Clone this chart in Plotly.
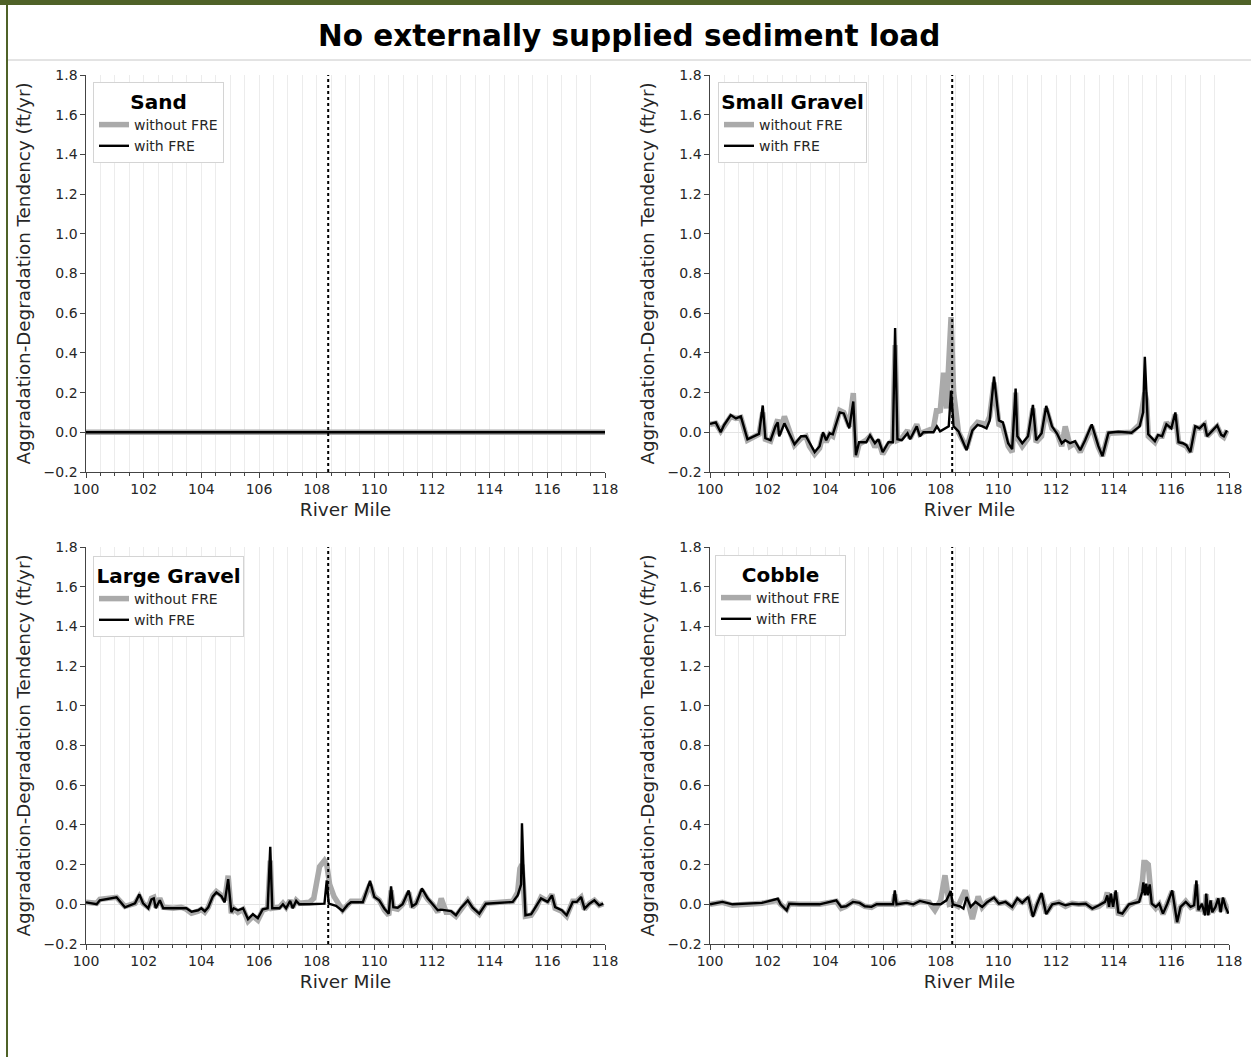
import plotly.graph_objects as go

# ---------------------------------------------------------------------------
# Aggradation-degradation tendency (ft/yr) along the river, by grain class
# ---------------------------------------------------------------------------
fre_mile = 108.4  # location of the FRE structure (dotted line)

# Sand: flat for both scenarios
sand_mile_without = [100.0, 104.0, 108.0, 112.0, 118.0]
sand_without = [0.0, 0.0, 0.0, 0.0, 0.0]
sand_mile_with = [100.0, 104.0, 108.0, 112.0, 118.0]
sand_with = [0.0, 0.0, 0.0, 0.0, 0.0]

# Small gravel
sgravel_mile_with = [
    100.0, 100.2, 100.37, 100.49, 100.72, 100.9, 101.07, 101.3, 101.7, 101.83,
    101.92, 102.1, 102.27, 102.35, 102.4, 102.58, 102.93, 103.16, 103.33, 103.45,
    103.63, 103.8, 103.92, 104.03, 104.15, 104.26, 104.5, 104.64, 104.83, 104.97,
    105.06, 105.17, 105.42, 105.55, 105.72, 105.84, 105.99, 106.19, 106.34, 106.42,
    106.5, 106.65, 106.85, 106.94, 107.17, 107.28, 107.4, 107.75, 107.87, 107.98,
    108.28, 108.36, 108.45, 108.62, 108.9, 109.1, 109.28, 109.45, 109.59, 109.7,
    109.85, 110.02, 110.16, 110.34, 110.48, 110.6, 110.66, 110.83, 111.03, 111.2,
    111.31, 111.5, 111.66, 111.86, 112.03, 112.2, 112.32, 112.49, 112.66, 112.84,
    113.01, 113.24, 113.47, 113.61, 113.82, 114.16, 114.62, 114.9, 115.02, 115.08,
    115.14, 115.2, 115.43, 115.54, 115.68, 115.83, 116.0, 116.14, 116.25, 116.4,
    116.52, 116.66, 116.83, 116.98, 117.15, 117.24, 117.4, 117.59, 117.73, 117.82,
    117.93,
]
sgravel_with = [
    0.042, 0.05, 0.0, 0.037, 0.087, 0.07, 0.08, -0.035, -0.008, 0.135,
    -0.03, -0.04, 0.03, 0.05, -0.02, 0.045, -0.06, -0.02, -0.02, -0.055,
    -0.1, -0.07, 0.0, -0.04, -0.005, -0.01, 0.1, 0.095, 0.02, 0.155,
    -0.115, -0.05, -0.05, -0.015, -0.055, -0.035, -0.1, -0.05, -0.05, 0.525,
    -0.035, -0.04, -0.005, -0.035, 0.03, -0.02, 0.0, 0.0, 0.03, 0.005,
    0.03, 0.21, 0.03, 0.005, -0.09, 0.01, 0.037, 0.03, 0.02, 0.06,
    0.28, 0.06, 0.05, -0.055, -0.085, 0.22, -0.02, -0.055, -0.02, 0.138,
    -0.04, -0.005, 0.133, 0.03, -0.005, -0.055, -0.04, -0.055, -0.045, -0.09,
    -0.04, 0.04, -0.07, -0.12, -0.002, 0.003, -0.002, 0.03, 0.1, 0.38,
    0.19, -0.01, -0.045, -0.013, -0.02, 0.04, 0.02, 0.1, -0.05, -0.055,
    -0.065, -0.1, 0.03, 0.02, 0.045, -0.02, 0.005, 0.035, -0.013, -0.02,
    0.01,
]
sgravel_mile_without = [
    100.0, 100.2, 100.37, 100.49, 100.72, 100.9, 101.07, 101.3, 101.7, 101.83,
    101.92, 102.1, 102.27, 102.35, 102.4, 102.58, 102.93, 103.16, 103.33, 103.45,
    103.63, 103.8, 103.92, 104.03, 104.15, 104.26, 104.5, 104.64, 104.83, 104.97,
    105.06, 105.17, 105.42, 105.55, 105.72, 105.84, 105.99, 106.19, 106.34, 106.42,
    106.5, 106.65, 106.85, 106.94, 107.17, 107.28, 107.4, 107.75, 107.87, 107.98,
    108.1, 108.2, 108.28, 108.36, 108.45, 108.55, 108.62, 108.9, 109.1, 109.28,
    109.45, 109.59, 109.7, 109.85, 110.02, 110.16, 110.34, 110.48, 110.6, 110.66,
    110.83, 111.03, 111.2, 111.31, 111.5, 111.66, 111.86, 112.03, 112.2, 112.32,
    112.49, 112.66, 112.84, 113.01, 113.24, 113.47, 113.61, 113.82, 114.16, 114.62,
    114.9, 115.02, 115.08, 115.14, 115.2, 115.43, 115.54, 115.68, 115.83, 116.0,
    116.14, 116.25, 116.4, 116.52, 116.66, 116.83, 116.98, 117.15, 117.24, 117.4,
    117.59, 117.73, 117.82, 117.93,
]
sgravel_without = [
    0.04, 0.045, 0.005, 0.035, 0.08, 0.07, 0.075, -0.04, -0.01, 0.1,
    -0.035, -0.045, 0.045, 0.065, -0.01, 0.08, -0.065, -0.03, -0.02, -0.07,
    -0.11, -0.08, -0.01, -0.05, -0.01, -0.02, 0.11, 0.1, 0.03, 0.197,
    -0.125, -0.06, -0.04, -0.02, -0.075, -0.04, -0.11, -0.06, -0.04, 0.44,
    -0.04, -0.03, 0.01, -0.03, 0.04, -0.01, 0.0, 0.02, 0.12, 0.1,
    0.3, 0.12, 0.35, 0.58, 0.2, 0.05, 0.0, -0.08, 0.02, 0.05,
    0.045, 0.04, 0.08, 0.25, 0.04, 0.03, -0.07, -0.1, 0.2, -0.03,
    -0.07, -0.03, 0.12, -0.05, -0.02, 0.12, 0.02, 0.0, -0.07, 0.03,
    -0.07, -0.055, -0.1, -0.05, 0.03, -0.075, -0.12, -0.005, 0.0, 0.0,
    0.04, 0.13, 0.2, 0.16, -0.02, -0.05, -0.02, -0.02, 0.05, 0.02,
    0.09, -0.05, -0.06, -0.07, -0.1, 0.025, 0.02, 0.04, -0.02, 0.0,
    0.03, -0.015, -0.025, 0.01,
]

# Large gravel
lgravel_mile_with = [
    100.0, 100.37, 100.48, 100.9, 101.06, 101.35, 101.7, 101.85, 101.98, 102.16,
    102.27, 102.35, 102.42, 102.56, 102.68, 103.02, 103.3, 103.48, 103.66, 103.89,
    104.0, 104.12, 104.24, 104.4, 104.52, 104.7, 104.81, 104.93, 105.04, 105.12,
    105.27, 105.45, 105.62, 105.79, 105.96, 106.13, 106.3, 106.39, 106.46, 106.71,
    106.83, 106.94, 107.08, 107.17, 107.29, 107.4, 107.75, 108.1, 108.27, 108.35,
    108.42, 108.67, 108.9, 109.07, 109.19, 109.6, 109.85, 110.0, 110.17, 110.35,
    110.5, 110.58, 110.66, 110.81, 110.98, 111.19, 111.31, 111.45, 111.65, 111.85,
    112.02, 112.2, 112.32, 112.49, 112.66, 112.83, 113.01, 113.24, 113.41, 113.64,
    113.87, 114.8, 114.97, 115.09, 115.12, 115.17, 115.24, 115.44, 115.6, 115.78,
    116.01, 116.16, 116.27, 116.5, 116.67, 116.88, 117.02, 117.17, 117.29, 117.46,
    117.63, 117.8, 117.94,
]
lgravel_with = [
    0.01, 0.0, 0.02, 0.03, 0.035, -0.015, 0.005, 0.05, 0.005, -0.02,
    0.025, 0.03, -0.02, 0.02, -0.02, -0.02, -0.02, -0.02, -0.037, -0.03,
    -0.02, -0.035, -0.015, 0.04, 0.06, 0.04, 0.01, 0.127, -0.04, -0.02,
    -0.03, -0.02, -0.075, -0.05, -0.07, -0.025, -0.02, 0.29, -0.02, -0.02,
    0.0, -0.02, 0.017, -0.02, 0.017, 0.0, 0.0, 0.003, 0.003, 0.12,
    0.003, -0.008, -0.034, -0.003, 0.01, 0.01, 0.118, 0.037, 0.02, -0.022,
    -0.047, 0.09, -0.014, -0.017, 0.0, 0.07, -0.01, 0.003, 0.08, 0.03,
    0.003, -0.03, -0.027, -0.03, -0.034, -0.055, -0.017, 0.02, -0.017, -0.047,
    0.003, 0.012, 0.045, 0.1, 0.408, 0.19, -0.055, -0.05, -0.014, 0.03,
    0.012, 0.045, -0.014, -0.03, -0.055, 0.012, 0.012, 0.037, -0.022, 0.003,
    0.02, -0.005, 0.003,
]
lgravel_mile_without = [
    100.0, 100.37, 100.48, 100.9, 101.06, 101.35, 101.7, 101.85, 101.98, 102.16,
    102.27, 102.35, 102.42, 102.56, 102.68, 103.02, 103.3, 103.48, 103.66, 103.89,
    104.0, 104.12, 104.24, 104.4, 104.52, 104.7, 104.81, 104.93, 105.04, 105.12,
    105.27, 105.45, 105.62, 105.79, 105.96, 106.13, 106.3, 106.39, 106.46, 106.71,
    106.83, 106.94, 107.08, 107.17, 107.29, 107.4, 107.75, 107.9, 108.1, 108.27,
    108.35, 108.45, 108.6, 108.9, 109.07, 109.19, 109.6, 109.85, 110.0, 110.17,
    110.35, 110.5, 110.58, 110.66, 110.81, 110.98, 111.19, 111.31, 111.45, 111.65,
    111.85, 112.02, 112.2, 112.32, 112.49, 112.66, 112.83, 113.01, 113.24, 113.41,
    113.64, 113.87, 114.8, 114.97, 115.05, 115.12, 115.17, 115.24, 115.44, 115.6,
    115.78, 116.01, 116.16, 116.27, 116.5, 116.67, 116.88, 117.02, 117.17, 117.29,
    117.46, 117.63, 117.8, 117.94,
]
lgravel_without = [
    0.01, 0.005, 0.025, 0.035, 0.035, -0.01, 0.005, 0.04, 0.005, -0.015,
    0.03, 0.035, -0.015, 0.03, -0.015, -0.02, -0.015, -0.025, -0.045, -0.035,
    -0.025, -0.04, -0.015, 0.045, 0.065, 0.045, 0.02, 0.144, -0.045, -0.02,
    -0.04, -0.025, -0.085, -0.06, -0.08, -0.03, -0.02, 0.22, -0.02, -0.015,
    0.005, -0.015, 0.02, -0.015, 0.02, 0.005, 0.01, 0.03, 0.19, 0.22,
    0.2, 0.1, 0.04, -0.03, 0.0, 0.015, 0.015, 0.1, 0.04, 0.02,
    -0.03, -0.055, 0.07, -0.02, -0.025, 0.0, 0.06, -0.015, 0.005, 0.07,
    0.025, 0.0, -0.04, 0.03, -0.04, -0.04, -0.06, -0.02, 0.02, -0.02,
    -0.05, 0.005, 0.015, 0.06, 0.18, 0.2, 0.1, -0.06, -0.055, -0.02,
    0.035, 0.015, 0.05, -0.02, -0.035, -0.06, 0.015, 0.015, 0.035, -0.025,
    0.005, 0.02, -0.005, 0.003,
]

# Cobble
cobble_mile_with = [
    100.0, 100.43, 100.78, 101.8, 102.35, 102.45, 102.66, 102.75, 103.1, 103.8,
    104.38, 104.55, 104.72, 104.96, 105.19, 105.37, 105.6, 105.78, 106.35, 106.41,
    106.47, 106.82, 107.05, 107.28, 107.75, 108.0, 108.2, 108.35, 108.42, 108.67,
    108.79, 108.9, 109.04, 109.21, 109.44, 109.62, 109.85, 110.02, 110.25, 110.48,
    110.66, 110.83, 111.04, 111.2, 111.35, 111.5, 111.66, 111.87, 112.1, 112.33,
    112.56, 112.79, 113.03, 113.26, 113.49, 113.7, 113.78, 113.84, 113.9, 113.98,
    114.07, 114.16, 114.3, 114.53, 114.88, 114.99, 115.03, 115.08, 115.13, 115.18,
    115.25, 115.32, 115.46, 115.58, 115.71, 115.86, 116.03, 116.2, 116.32, 116.5,
    116.67, 116.79, 116.87, 116.94, 117.06, 117.17, 117.21, 117.28, 117.36, 117.42,
    117.53, 117.63, 117.71, 117.79, 117.88, 117.98,
]
cobble_with = [
    0.0, 0.012, 0.0, 0.007, 0.028, 0.0, -0.03, 0.003, 0.0, 0.0,
    0.02, -0.013, -0.01, 0.012, 0.007, -0.01, -0.013, 0.0, 0.0, 0.07,
    0.0, 0.007, 0.0, 0.017, 0.0, 0.0, 0.02, 0.067, 0.0, -0.01,
    -0.022, 0.037, -0.013, 0.012, -0.013, 0.012, 0.034, 0.003, 0.012, -0.013,
    0.03, 0.007, 0.037, -0.064, 0.003, 0.057, -0.05, 0.0, 0.007, -0.005,
    0.003, 0.0, 0.003, -0.022, -0.005, 0.012, 0.045, -0.013, 0.054, -0.013,
    0.07, -0.04, -0.047, 0.0, 0.012, 0.062, 0.11, 0.045, 0.104, 0.045,
    0.1, 0.003, -0.013, 0.003, -0.047, 0.003, 0.07, -0.09, -0.013, 0.012,
    -0.013, -0.005, 0.12, -0.03, 0.003, -0.056, 0.054, -0.056, 0.02, -0.04,
    -0.013, 0.03, -0.04, 0.034, -0.013, -0.047,
]
cobble_mile_without = [
    100.0, 100.43, 100.78, 101.8, 102.35, 102.45, 102.66, 102.75, 103.1, 103.8,
    104.38, 104.55, 104.72, 104.96, 105.19, 105.37, 105.6, 105.78, 106.35, 106.41,
    106.47, 106.82, 107.05, 107.28, 107.6, 107.8, 108.0, 108.15, 108.3, 108.42,
    108.6, 108.85, 109.1, 109.3, 109.44, 109.62, 109.85, 110.02, 110.25, 110.48,
    110.66, 110.83, 111.04, 111.2, 111.35, 111.5, 111.66, 111.87, 112.1, 112.33,
    112.56, 112.79, 113.03, 113.26, 113.49, 113.7, 113.78, 113.84, 113.9, 113.98,
    114.07, 114.16, 114.3, 114.53, 114.88, 115.0, 115.05, 115.12, 115.2, 115.25,
    115.32, 115.46, 115.58, 115.71, 115.86, 116.03, 116.2, 116.32, 116.5, 116.67,
    116.79, 116.87, 116.94, 117.06, 117.17, 117.21, 117.28, 117.36, 117.42, 117.53,
    117.63, 117.71, 117.79, 117.88, 117.98,
]
cobble_without = [
    0.0, 0.01, -0.005, 0.005, 0.02, 0.0, -0.025, 0.003, 0.0, 0.0,
    0.015, -0.02, -0.01, 0.015, 0.005, -0.01, -0.015, 0.0, 0.0, 0.05,
    0.0, 0.01, 0.0, 0.015, 0.01, -0.03, 0.02, 0.146, 0.0, 0.005,
    -0.01, 0.07, -0.075, 0.04, -0.015, 0.015, 0.03, 0.005, 0.01, -0.015,
    0.025, 0.01, 0.03, -0.055, 0.0, 0.05, -0.045, 0.0, 0.01, -0.01,
    0.005, 0.0, 0.003, -0.02, -0.01, 0.015, 0.06, -0.02, 0.05, -0.02,
    0.06, -0.045, -0.05, -0.005, 0.02, 0.12, 0.21, 0.21, 0.2, 0.08,
    0.005, -0.02, 0.0, -0.05, 0.005, 0.065, -0.095, -0.015, 0.015, -0.015,
    -0.005, 0.1, -0.035, 0.005, -0.05, 0.05, -0.05, 0.02, -0.04, -0.015,
    0.03, -0.035, 0.03, -0.015, -0.045,
]

panels = [
    ("Sand", sand_mile_without, sand_without, sand_mile_with, sand_with),
    ("Small Gravel", sgravel_mile_without, sgravel_without, sgravel_mile_with, sgravel_with),
    ("Large Gravel", lgravel_mile_without, lgravel_without, lgravel_mile_with, lgravel_with),
    ("Cobble", cobble_mile_without, cobble_without, cobble_mile_with, cobble_with),
]

W, H = 1251, 1057


def px_x(p):
    return p / W


def px_y(p):
    return 1 - p / H


# axes boxes in pixels: (left, right, top, bottom)
boxes = [(86, 605, 75, 472), (710, 1229, 75, 472),
         (86, 605, 547, 944), (710, 1229, 547, 944)]
# legend top-left corners in pixels
legend_pos = [(93, 82), (718, 82), (93, 556), (715, 555)]

FONT = "DejaVu Sans"
fig = go.Figure()
layout = dict(
    width=W, height=H,
    margin=dict(l=0, r=0, t=0, b=0),
    paper_bgcolor="white", plot_bgcolor="white",
    font=dict(family=FONT, color="#262626"),
    showlegend=True,
)
shapes = []

for i, (name, mw, vw, m, v) in enumerate(panels):
    sfx = "" if i == 0 else str(i + 1)
    leg = "legend" if i == 0 else f"legend{i + 1}"
    fig.add_trace(go.Scatter(
        x=mw, y=vw, mode="lines", name="without FRE",
        line=dict(color="#aaaaaa", width=5.5),
        xaxis="x" + sfx, yaxis="y" + sfx, legend=leg, hoverinfo="skip",
    ))
    fig.add_trace(go.Scatter(
        x=m, y=v, mode="lines", name="with FRE",
        line=dict(color="#000000", width=2.4),
        xaxis="x" + sfx, yaxis="y" + sfx, legend=leg, hoverinfo="skip",
    ))

    l, r, t, b = boxes[i]
    layout["xaxis" + sfx] = dict(
        domain=[px_x(l), px_x(r)], anchor="y" + sfx, range=[100, 118],
        tickmode="linear", tick0=100, dtick=2,
        ticks="outside", ticklen=4.5, tickwidth=1.2, tickcolor="#444",
        showline=True, linecolor="#444", linewidth=1.2,
        showgrid=True, gridcolor="#ececec", gridwidth=1, zeroline=False,
        minor=dict(dtick=0.5, tick0=100, ticks="outside", ticklen=2.5,
                   tickwidth=1, tickcolor="#444", showgrid=True,
                   gridcolor="#ececec", gridwidth=1),
        tickfont=dict(size=14, family=FONT, color="#262626"),
        title=dict(text="River Mile", font=dict(size=18.5, family=FONT, color="#262626"),
                   standoff=6),
        automargin=False,
    )
    layout["yaxis" + sfx] = dict(
        domain=[px_y(b), px_y(t)], anchor="x" + sfx, range=[-0.2, 1.8],
        tickmode="linear", tick0=-0.2, dtick=0.2, tickformat=".1f",
        ticks="outside", ticklen=4.5, tickwidth=1.2, tickcolor="#444",
        showline=True, linecolor="#444", linewidth=1.2,
        showgrid=False, zeroline=True, zerolinecolor="#e4e4e4", zerolinewidth=1,
        tickfont=dict(size=14, family=FONT, color="#262626"),
        title=dict(text="Aggradation-Degradation Tendency (ft/yr)",
                   font=dict(size=18.3, family=FONT, color="#262626"), standoff=8),
        automargin=False,
    )
    lx, ly = legend_pos[i]
    layout[leg] = dict(
        x=px_x(lx), y=px_y(ly), xanchor="left", yanchor="top",
        xref="paper", yref="paper",
        bgcolor="white", bordercolor="#d4d4d4", borderwidth=1,
        font=dict(size=14, family=FONT, color="#262626"),
        title=dict(text=f"<b>{name}</b>", side="top center",
                   font=dict(size=20, family=FONT, color="#000")),
        itemwidth=30, tracegroupgap=0,
    )
    # FRE location
    shapes.append(dict(
        type="line", xref="x" + sfx, yref="y" + sfx,
        x0=fre_mile, x1=fre_mile, y0=-0.2, y1=1.8,
        line=dict(color="#000", width=2, dash="dot"), layer="above",
    ))

# page frame: green top band and left rule, grey rule under the heading
shapes += [
    dict(type="rect", xref="paper", yref="paper", x0=0, x1=1,
         y0=px_y(5), y1=1, fillcolor="#4f6228", line=dict(width=0), layer="above"),
    dict(type="rect", xref="paper", yref="paper", x0=px_x(6), x1=px_x(8),
         y0=0, y1=1, fillcolor="#4f6228", line=dict(width=0), layer="above"),
    dict(type="line", xref="paper", yref="paper", x0=px_x(8), x1=1,
         y0=px_y(60), y1=px_y(60), line=dict(color="#c8c8c8", width=1)),
]
layout["shapes"] = shapes
layout["annotations"] = [dict(
    text="<b>No externally supplied sediment load</b>", xref="paper", yref="paper",
    x=px_x(629), y=px_y(36), xanchor="center", yanchor="middle", showarrow=False,
    font=dict(size=29.5, family=FONT, color="#000"),
)]

fig.update_layout(**layout)
fig.write_html("out.html")
